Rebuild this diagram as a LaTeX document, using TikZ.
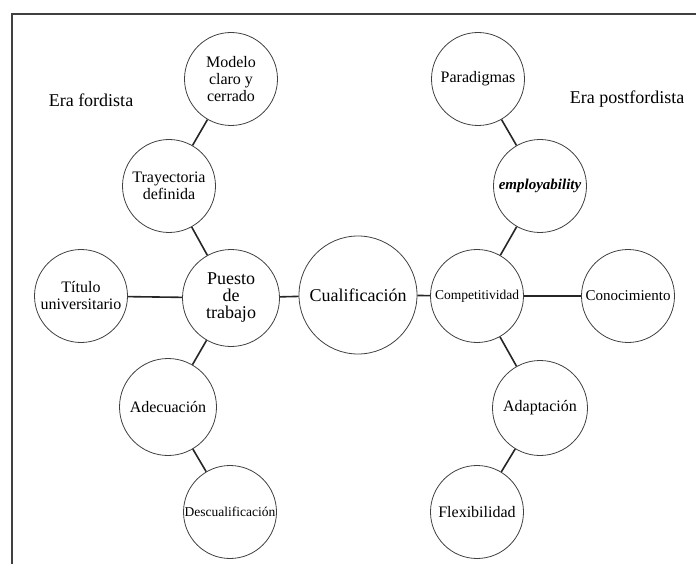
\documentclass[tikz,border=0pt]{standalone}
\usepackage{fontspec}
\setmainfont{Liberation Serif}
\begin{document}
\begin{tikzpicture}[x=1pt,y=-1pt,
  circ/.style={circle, draw=black!75, line width=0.8pt, minimum size=93pt, inner sep=0pt, align=center, font=\fontsize{16}{17}\selectfont},
  big/.style={font=\fontsize{18}{17}\selectfont},
  small/.style={font=\fontsize{13.5}{15}\selectfont},
  conn/.style={line width=1.6pt, black!85},
  frameline/.style={line width=1.4pt, black!75},
  lbl/.style={font=\fontsize{18}{20}\selectfont, inner sep=0pt}]
\useasboundingbox (0,0) rectangle (696,564);
\coordinate (ftr) at (696,14);
\coordinate (ftl) at (12,14);
\coordinate (fbl) at (12,564);
\draw[frameline] (ftr) -- (ftl) -- (fbl);

\node[lbl] (ef) at (91,100) {Era fordista};
\node[lbl] (ep) at (627,99) {Era postfordista};

\node[circ] (mod) at (231,79) {Modelo\\claro y\\cerrado};
\node[circ] (tra) at (169,186) {Trayectoria\\definida};
\node[circ] (tit) at (81,296) {Título\\universitario};
\node[circ, big, minimum size=97pt] (pue) at (231,298) {Puesto\\de\\trabajo};
\node[circ, big, minimum size=118pt] (cua) at (358,295) {Cualificación};
\node[circ, small] (com) at (477,296) {Competitividad};
\node[circ, font=\fontsize{15}{17}\selectfont] (con) at (628,296) {Conocimiento};
\node[circ] (par) at (478,79) {Paradigmas};
\node[circ, font=\fontsize{15}{17}\selectfont\bfseries\itshape] (emp) at (540,186) {employability};
\node[circ, minimum size=97pt] (ade) at (168,407) {Adecuación};
\node[circ, small] (des) at (230,512) {Descualificación};
\node[circ, minimum size=95pt] (ada) at (540,408) {Adaptación};
\node[circ] (fle) at (477,512) {Flexibilidad};

\draw[conn] (mod) -- (tra);
\draw[conn] (tra) -- (pue);
\draw[conn] (tit) -- (pue);
\draw[conn] (pue) -- (cua);
\draw[conn] (pue) -- (ade);
\draw[conn] (ade) -- (des);
\draw[conn] (cua) -- (com);
\draw[conn] (com) -- (con);
\draw[conn] (com) -- (emp);
\draw[conn] (emp) -- (par);
\draw[conn] (com) -- (ada);
\draw[conn] (ada) -- (fle);
\end{tikzpicture}
\end{document}
